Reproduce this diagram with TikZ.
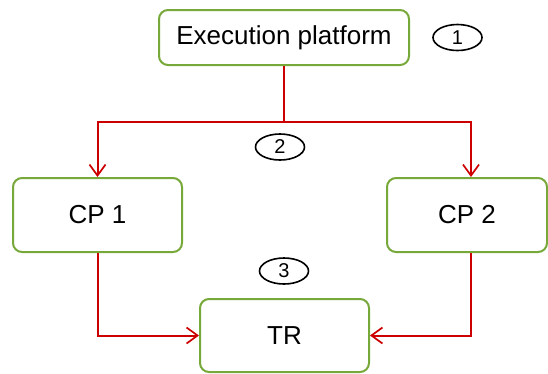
\documentclass[tikz,border=0pt]{standalone}
\usepackage{fontspec}
\setmainfont{Liberation Sans}
\usetikzlibrary{arrows.meta,shapes.geometric}
\definecolor{boxgreen}{HTML}{77A83A}
\definecolor{linkred}{HTML}{CC0000}
\begin{document}
\begin{tikzpicture}[x=1pt,y=-1pt,
  block/.style={draw=boxgreen, line width=2pt, rounded corners=9pt,
    fill=white, inner sep=0pt, font=\fontsize{26}{30}\selectfont},
  stepnum/.style={draw=black, ellipse, line width=1.6pt, minimum width=49pt,
    minimum height=26pt, inner sep=0pt, font=\fontsize{20}{22}\selectfont},
  link/.style={draw=linkred, line width=2pt,
    -{Straight Barb[length=11pt,width=16pt,line width=1.7pt]}}]
\useasboundingbox (0,0) rectangle (548,373);

% processing nodes
\node[block, minimum width=250pt, minimum height=55pt] (exec) at (284,37.5) {Execution platform};
\node[block, minimum width=169pt, minimum height=74pt] (cp1) at (97.5,215) {CP 1};
\node[block, minimum width=160pt, minimum height=74pt] (cp2) at (467,215) {CP 2};
\node[block, minimum width=169pt, minimum height=73pt] (tr) at (284.5,335.5) {TR};

% step markers
\node[stepnum] (s1) at (457.5,37.5) {1};
\node[stepnum] (s2) at (280,147) {2};
\node[stepnum] (s3) at (284,271) {3};

% connectors
\coordinate (split) at (284,121.5);
\draw[linkred, line width=2pt] (exec.south) -- (split);
\draw[link] (split) -| (cp1.north);
\draw[link] (split) -| ([xshift=4pt]cp2.north);
\draw[link] (cp1.south) |- (tr.west);
\draw[link] ([xshift=4pt]cp2.south) |- (tr.east);
\end{tikzpicture}
\end{document}
